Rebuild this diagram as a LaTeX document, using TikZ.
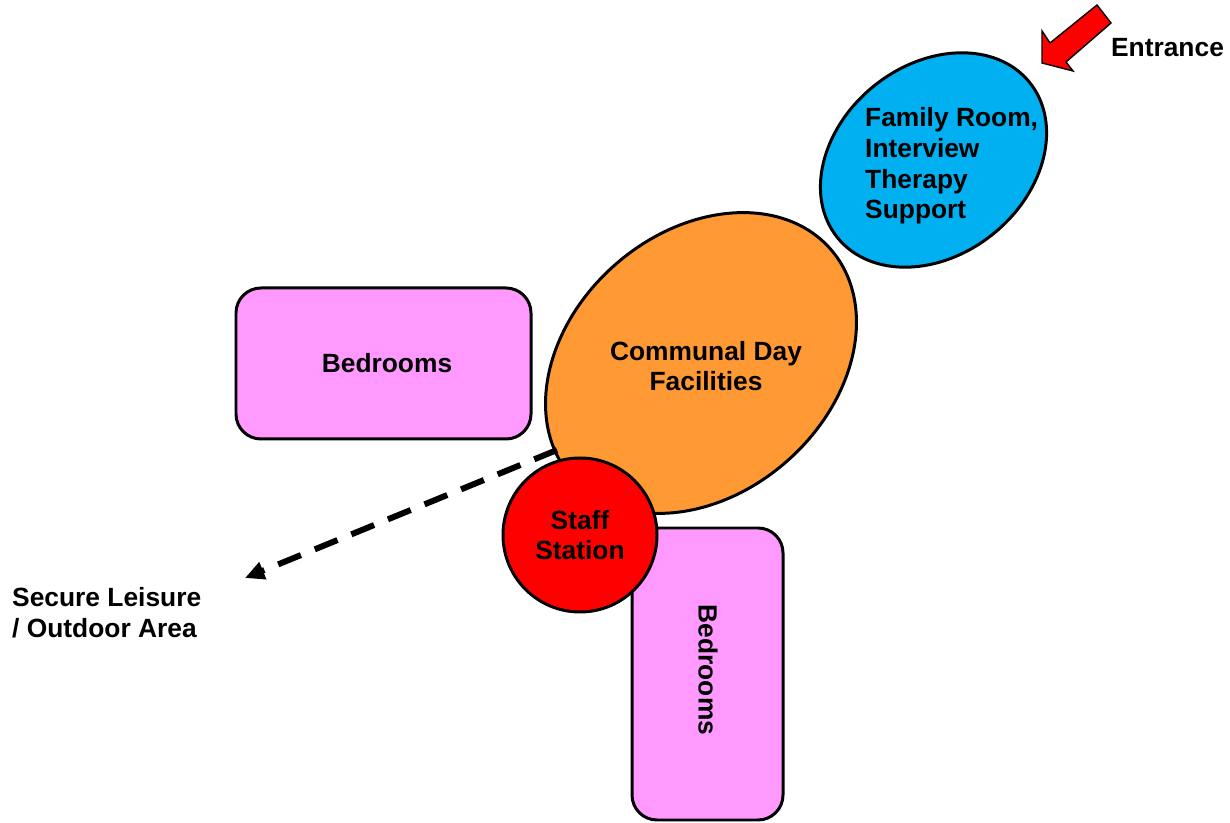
\documentclass[tikz,border=0pt]{standalone}
\usepackage{fontspec}
\setmainfont{Liberation Sans}
\usetikzlibrary{arrows.meta}

\definecolor{roompink}{HTML}{FF99FF}
\definecolor{dayorange}{HTML}{FF9933}
\definecolor{familyblue}{HTML}{00B0F0}
\definecolor{staffred}{HTML}{FF0000}

\tikzset{
    label/.style={font=\fontsize{15}{17.4}\selectfont\bfseries, align=center},
    room/.style={draw, line width=1.7pt, fill=roompink, rounded corners=0.5cm},
    zone/.style={draw, line width=1.7pt}
}

\begin{document}
\begin{tikzpicture}
            \useasboundingbox (0,0) rectangle (24.6,16.46);

            \coordinate (day) at (14.02,9.2);
            \coordinate (family) at (18.67,13.26);
            \coordinate (staff) at (11.6,5.76);

            \draw[room] (4.72,7.68) rectangle (10.62,10.70);
            \draw[room] (12.64,0.06) rectangle (15.66,5.90);

            \draw[zone, fill=dayorange, rotate around={41.5:(day)}] (day) ellipse (3.45 and 2.61);
            \draw[zone, fill=familyblue, rotate around={39:(family)}] (family) ellipse (2.47 and 1.9);
            \draw[zone, fill=staffred] (staff) circle (1.54);

            \node[label] (bed1) at (7.74,9.2) {Bedrooms};
            \node[label, rotate=-90] (bed2) at (14.16,3.06) {Bedrooms};
            \node[label] (daytext) at (14.12,9.14) {Communal Day\\Facilities};
            \node[label, align=left, anchor=west] (familytext) at (17.18,13.14) {Family Room,\\Interview\\Therapy\\Support};
            \node[label] (stafftext) at (11.6,5.76) {Staff\\Station};
            \node[label, align=left, anchor=west] (outdoor) at (0.12,4.2) {Secure Leisure\\/ Outdoor Area};
            \node[label] (entrance) at (23.35,15.5) {Entrance};

            \coordinate (exit) at (11.14,7.46);
            \coordinate (yard) at (4.9,4.9);
            \draw[line width=3.4pt, dash pattern=on 14pt off 8.5pt, -{Triangle[length=11pt,width=10pt]}] (exit) -- (yard);

            \draw[line width=0.8pt, fill=staffred, line join=miter]
                (20.84,15.2) -- (20.84,15.84) -- (21.0,15.6) -- (21.94,16.36)
                -- (22.22,16.0) -- (21.32,15.22) -- (21.46,15.04) -- cycle;
        \end{tikzpicture}
\end{document}
